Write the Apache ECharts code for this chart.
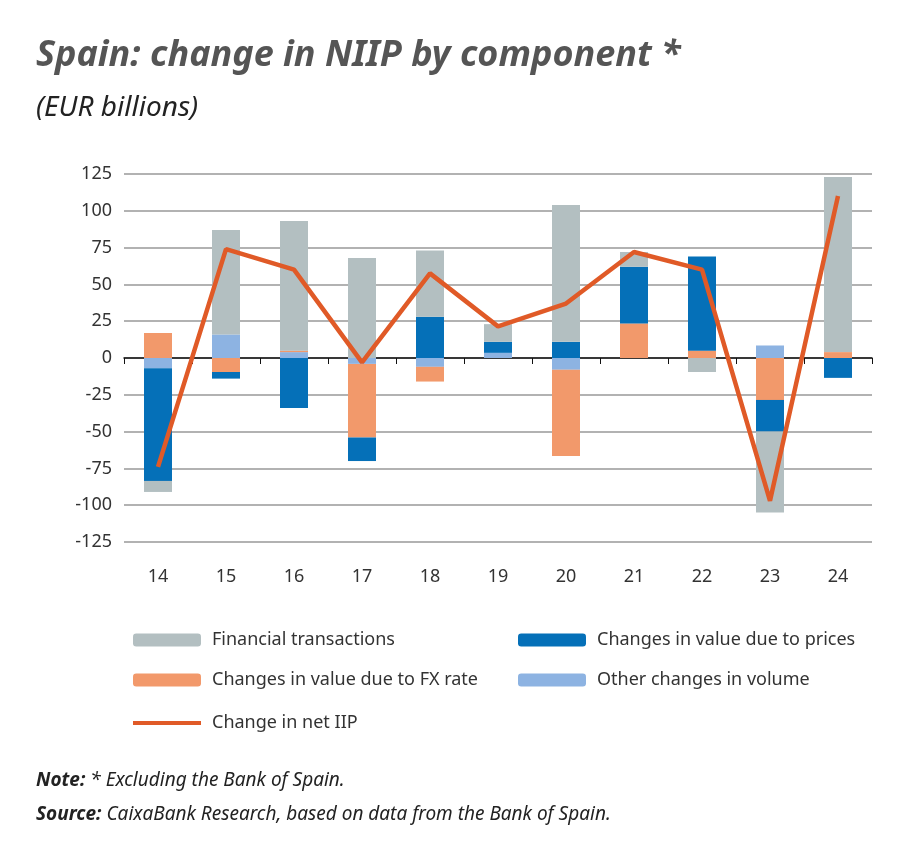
<!DOCTYPE html>
<html>
<head>
<meta charset="utf-8">
<script src="https://cdn.jsdelivr.net/npm/echarts@6/dist/echarts.min.js"></script>
<style>
  html, body { margin: 0; padding: 0; background: #fff; }
  #main { width: 900px; height: 848px; }
</style>
</head>
<body>
<div id="main"></div>
<script>
const years = ['14', '15', '16', '17', '18', '19', '20', '21', '22', '23', '24']
// stacking order from zero outwards: other volume, FX, prices, financial
const otherVolume = [-7, 16, 4, -4, -6, 3.5, -8, 0, 0, 8.5, 0]
const fxRate = [17, -9.5, 1, -50, -10, 0, -58.5, 23.5, 5, -28.5, 4]
const prices = [-76.5, -4.5, -34, -16, 28, 7.5, 11, 38.5, 64, -21.5, -13.5]
const financial = [-7.5, 71, 88, 68, 45, 12, 93, 10, -9.5, -55, 119]
const netIIP = [-74, 74, 60, -3, 57.5, 21.5, 37, 72, 60, -97, 110]
const yTicks = [-125, -100, -75, -50, -25, 0, 25, 50, 75, 100, 125]

const font = 'Noto Sans'
const txt = '#333'

const myChart = echarts.init(document.getElementById('main'))

const bar = (name, data, color) => ({
  name, type: 'bar', stack: 'iip', data, barWidth: 28,
  itemStyle: { color }, xAxisIndex: 0,
})

const legendBase = {
  itemWidth: 68, itemHeight: 13,
  textStyle: { fontFamily: font, fontSize: 18, color: txt, padding: [0, 0, 0, 6] },
  orient: 'vertical', selectedMode: false,
}

myChart.setOption({
  animation: false,
  textStyle: { fontFamily: font },
  graphic: [
    { type: 'text', left: 36, top: 38, style: { text: 'Spain: change in NIIP by component *', font: 'italic bold 36px "Noto Sans"', fill: '#555' } },
    { type: 'text', left: 36, top: 94, style: { text: '(EUR billions)', font: 'italic 28px "Noto Sans"', fill: '#222' } },
    { type: 'text', left: 36, top: 764, style: {
      text: '{b|Note:} * Excluding the Bank of Spain.\n{b|Source:} CaixaBank Research, based on data from the Bank of Spain.',
      font: 'italic 19px "Noto Sans"', fill: '#222', lineHeight: 34,
      rich: { b: { fontWeight: 'bold', fontStyle: 'italic', fontSize: 19, fontFamily: font } },
    } },
  ],
  legend: [
    Object.assign({}, legendBase, { left: 128, top: 626, itemGap: 22, data: ['Financial transactions', 'Changes in value due to FX rate'] }),
    Object.assign({}, legendBase, { left: 513, top: 626, itemGap: 22, data: ['Changes in value due to prices', 'Other changes in volume'] }),
    Object.assign({}, legendBase, { left: 128, top: 709, itemHeight: 4, data: [{ name: 'Change in net IIP', icon: 'rect' }] }),
  ],
  grid: { left: 124, right: 28, top: 174, bottom: 306 },
  xAxis: [
    {
      type: 'category', data: years,
      axisLine: { onZero: true, lineStyle: { color: '#111', width: 1.5 } },
      axisTick: { show: true, length: 6, inside: false, lineStyle: { color: '#111' } },
      axisLabel: { show: false },
    },
    {
      type: 'category', data: years, position: 'bottom',
      axisLine: { show: false, onZero: false }, axisTick: { show: false },
      axisLabel: { fontSize: 18, color: txt, margin: 26 },
    },
  ],
  yAxis: {
    type: 'value', min: -125, max: 125, interval: 25,
    axisLine: { show: false }, axisTick: { show: false },
    axisLabel: { fontSize: 18, color: txt, margin: 12,
      customValues: yTicks },
    splitLine: { lineStyle: { color: '#999', width: 1.5 } },
  },
  series: [
    bar('Other changes in volume', otherVolume, '#8db3e2'),
    bar('Changes in value due to FX rate', fxRate, '#f2996b'),
    bar('Changes in value due to prices', prices, '#0570b8'),
    bar('Financial transactions', financial, '#b3bfc1'),
    {
      name: 'Change in net IIP', type: 'line', data: netIIP,
      symbol: 'none', lineStyle: { color: '#e05a27', width: 4.5 },
      itemStyle: { color: '#e05a27' }, z: 5,
    },
  ],
})
</script>
</body>
</html>
